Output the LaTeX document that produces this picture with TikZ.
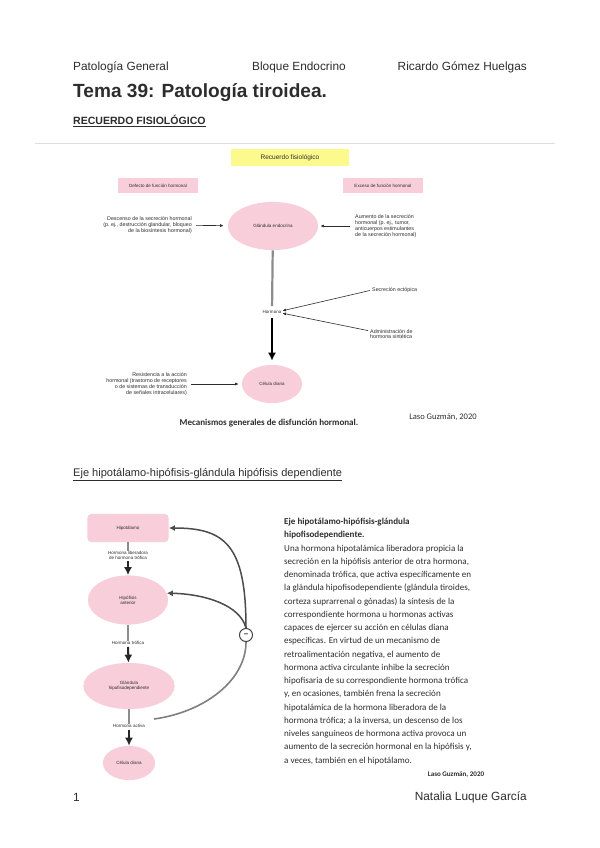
\documentclass[tikz,border=0pt]{standalone}
\usepackage{fontspec}
\setmainfont{Liberation Sans}
\newfontfamily\calibri{Carlito}
\usetikzlibrary{arrows.meta,shapes.geometric}
\definecolor{rosa}{RGB}{248,206,218}
\definecolor{amarillo}{RGB}{252,250,140}
\definecolor{regla}{RGB}{222,222,222}
\definecolor{tinta}{RGB}{45,45,45}
\begin{document}
\begin{tikzpicture}[x=0.35mm,y=-0.35mm, every node/.style={inner sep=0pt, text=tinta},
  chico/.style={font=\fontsize{5.3}{5.7}\selectfont},
  mini/.style={font=\fontsize{4.5}{5.2}\selectfont},
  caja/.style={fill=rosa, minimum width=80, minimum height=15, mini},
  elipse/.style={ellipse, fill=rosa, mini, align=center},
  flecha/.style={-{Latex[length=3.5pt,width=3pt]}, line width=0.6pt, tinta},
  gris/.style={line width=1.6pt, black!45},
  gorda/.style={-{Latex[length=8pt,width=8pt]}, line width=2pt, black!85},
  retro/.style={-{Latex[length=6pt,width=6pt]}, line width=1.5pt, black!70}]
  \useasboundingbox[fill=white] (0,0) rectangle (599,848);
  % cabecera
  \node[anchor=west, font=\fontsize{11.8}{13}\selectfont] (asignatura) at (73,67) {Patología General};
  \node[anchor=west, font=\fontsize{11.8}{13}\selectfont] (bloque) at (252,67) {Bloque Endocrino};
  \node[anchor=east, font=\fontsize{11.8}{13}\selectfont] (profesor) at (527,67) {Ricardo Gómez Huelgas};
  \node[anchor=west, font=\bfseries\fontsize{19}{22}\selectfont] (tema) at (73,93) {Tema 39: Patología tiroidea.};
  \node[anchor=west, font=\bfseries\fontsize{10.5}{12}\selectfont] (recuerdo) at (73,121) {\underline{RECUERDO FISIOLÓGICO}};
  \draw[regla, line width=0.6pt] (35,143) -- (555,143);
  % mecanismos de disfuncion
  \node[fill=amarillo, minimum width=118, minimum height=17, font=\fontsize{6.5}{7}\selectfont] (titulo) at (290,157.5) {Recuerdo fisiológico};
  \node[caja] (defecto) at (158,185.5) {Defecto de función hormonal};
  \node[caja] (exceso) at (383,185.5) {Exceso de función hormonal};
  \node[elipse, minimum width=90, minimum height=48] (glandula) at (273,226) {Glándula endocrina};
  \node[chico, align=right, anchor=east] (descenso) at (192,225) {Descenso de la secreción hormonal\\(p.~ej., destrucción glandular, bloqueo\\de la biosíntesis hormonal)};
  \node[chico, align=left, anchor=west] (aumento) at (355,226) {Aumento de la secreción\\hormonal (p.~ej., tumor,\\anticuerpos estimulantes\\de la secreción hormonal)};
  \draw[flecha, shorten <=4pt, shorten >=4pt] (descenso) -- (glandula);
  \draw[flecha, shorten <=5pt, shorten >=2pt] (aumento.west) -- (glandula.east);
  \node[mini] (hormona) at (272,312) {Hormona};
  \draw[gris, line width=2.2pt, shorten >=4pt] (glandula) -- (hormona);
  \node[chico, anchor=west] (ectopica) at (372,290) {Secreción ectópica};
  \node[chico, align=left, anchor=west] (sintetica) at (370,334) {Administración de\\hormona sintética};
  \draw[flecha, shorten <=2pt, shorten >=1pt] (ectopica.west) -- ([yshift=1pt]hormona.east);
  \draw[flecha, shorten <=2pt, shorten >=1pt] ([yshift=3pt]sintetica.west) -- ([yshift=-1pt]hormona.east);
  \node[elipse, minimum width=60, minimum height=38] (celula) at (272,384) {Célula diana};
  \draw[gorda, line width=2.6pt, black, shorten <=4pt, shorten >=4pt] (hormona) -- (celula);
  \node[chico, align=right, anchor=east] (resistencia) at (187,384) {Resistencia a la acción\\hormonal (trastorno de receptores\\o de sistemas de transducción\\de señales intracelulares)};
  \draw[flecha, shorten <=4pt, shorten >=3pt] (resistencia) -- (celula);
  \node[font=\calibri\bfseries\fontsize{9}{11}\selectfont] (mecanismos) at (269,423) {Mecanismos generales de disfunción hormonal.};
  \node[font=\calibri\fontsize{8.5}{10}\selectfont] (fuente) at (443,417) {Laso Guzmán, 2020};
  % eje hipotalamo-hipofisis
  \node[anchor=west, font=\fontsize{11}{12}\selectfont] (eje) at (73,475) {\underline{Eje hipotálamo-hipófisis-glándula hipófisis dependiente}};
  \node[fill=rosa, rounded corners=4pt, minimum width=81, minimum height=28, mini] (hipotalamo) at (128,528) {Hipotálamo};
  \node[mini, align=center] (liberadora) at (128,555) {Hormona liberadora\\de hormona trófica};
  \node[elipse, minimum width=80, minimum height=49] (hipofisis) at (128,600) {Hipófisis\\anterior};
  \node[mini] (trofica) at (128,643) {Hormona trófica};
  \node[elipse, minimum width=91, minimum height=46] (dependiente) at (129,686) {Glándula\\hipofisodependiente};
  \node[mini] (activa) at (129,726) {Hormona activa};
  \node[elipse, minimum width=52, minimum height=34] (diana) at (129,763) {Célula diana};
  \draw[gris] (hipotalamo) -- (liberadora);
  \draw[gorda, shorten <=2pt] (liberadora) -- (hipofisis);
  \draw[gris] (hipofisis) -- (trofica);
  \draw[gorda, shorten <=2pt] (trofica) -- (dependiente);
  \draw[gris] (dependiente) -- (activa);
  \draw[gorda, shorten <=2pt] (activa) -- (diana);
  \coordinate (retorno) at (154,719);
  \node[circle, draw=black!75, line width=1pt, fill=white, minimum size=13, font=\bfseries\fontsize{8}{8}\selectfont] (menos) at (246,635) {–};
  \draw[gris, black!50] (retorno) .. controls (205,712) and (246,680) .. (menos.south);
  \draw[retro] (menos.north) .. controls (240,605) and (205,594) .. (hipofisis.10);
  \draw[retro] (menos.north) .. controls (246,545) and (225,528) .. (hipotalamo.east);
  % texto
  \node[anchor=north west, align=left, font=\calibri\fontsize{9}{13.2}\selectfont] (cuerpo) at (284,518) {\textbf{Eje hipotálamo-hipófisis-glándula}\\
    \textbf{hipofisodependiente.}\\
    Una hormona hipotalámica liberadora propicia la\\
    secreción en la hipófisis anterior de otra hormona,\\
    denominada trófica, que activa específicamente en\\
    la glándula hipofisodependiente (glándula tiroides,\\
    corteza suprarrenal o gónadas) la síntesis de la\\
    correspondiente hormona u hormonas activas\\
    capaces de ejercer su acción en células diana\\
    específicas. En virtud de un mecanismo de\\
    retroalimentación negativa, el aumento de\\
    hormona activa circulante inhibe la secreción\\
    hipofisaria de su correspondiente hormona trófica\\
    y, en ocasiones, también frena la secreción\\
    hipotalámica de la hormona liberadora de la\\
    hormona trófica; a la inversa, un descenso de los\\
    niveles sanguíneos de hormona activa provoca un\\
    aumento de la secreción hormonal en la hipófisis y,\\
    a veces, también en el hipotálamo.};
  \node[font=\calibri\bfseries\fontsize{7}{8}\selectfont] (cita) at (456,775) {Laso Guzmán, 2020};
  % pie
  \node[anchor=west, font=\fontsize{11.8}{13}\selectfont] (pagina) at (73,797) {1};
  \node[anchor=east, font=\fontsize{11.8}{13}\selectfont] (autora) at (527,797) {Natalia Luque García};
\end{tikzpicture}
\end{document}
